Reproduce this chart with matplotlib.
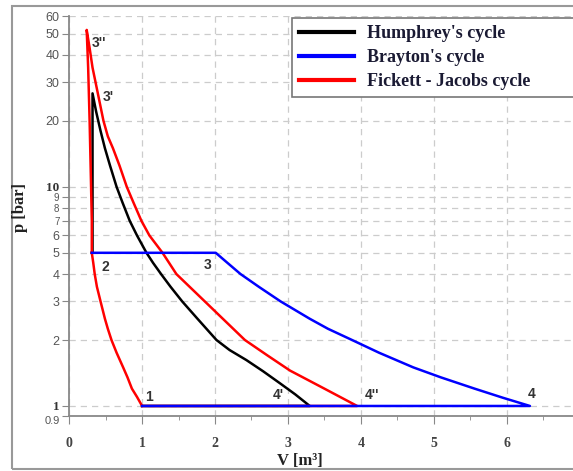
import matplotlib
matplotlib.use('Agg')
import matplotlib.pyplot as plt
from matplotlib.patches import Rectangle
from matplotlib.ticker import FixedLocator, NullLocator, MultipleLocator

# compression 1 -> 2 (shared by all three cycles)
comp_v = [1.0, 0.93, 0.86, 0.80, 0.74, 0.65, 0.58, 0.53, 0.49, 0.43, 0.38, 0.35, 0.33, 0.31]
comp_p = [1.0, 1.1, 1.2, 1.35, 1.5, 1.75, 2.0, 2.25, 2.5, 3.0, 3.5, 4.0, 4.5, 5.0]

# Humphrey: 2 -> 3' -> 4' -> 1
hum_v = [0.31, 0.32, 0.32, 0.37, 0.43, 0.49, 0.56, 0.65, 0.73, 0.83, 0.93, 1.06, 1.15,
         1.26, 1.39, 1.55, 1.76, 2.02, 2.20, 2.43, 2.66, 2.89, 3.10, 3.30, 1.0]
hum_p = [5.0, 5.0, 26.7, 22.0, 18.0, 15.0, 12.5, 10.0, 8.5, 7.0, 6.0, 5.0, 4.5,
         4.0, 3.5, 3.0, 2.5, 2.0, 1.8, 1.62, 1.44, 1.27, 1.13, 1.0, 1.0]

# Brayton: 2 -> 3 -> 4 -> 1
bra_v = [0.31, 2.01, 2.17, 2.35, 2.60, 2.90, 3.30, 3.55, 3.88, 4.25, 4.72, 5.10, 5.56, 5.95, 6.32, 1.0]
bra_p = [5.0, 5.0, 4.5, 4.0, 3.5, 3.0, 2.5, 2.25, 2.0, 1.75, 1.5, 1.35, 1.2, 1.09, 1.0, 1.0]

# Fickett - Jacobs: 2 -> 3'' -> 4'' -> 1
fj_v = [0.31, 0.31, 0.30, 0.28, 0.26, 0.24, 0.28, 0.32, 0.38, 0.47, 0.53, 0.60, 0.69, 0.79,
        0.88, 0.99, 1.10, 1.28, 1.37, 1.47, 2.41, 2.72, 3.03, 3.50, 3.95, 1.0]
fj_p = [5.0, 7.0, 10.0, 20.0, 35.0, 52.0, 43.0, 35.0, 28.0, 20.0, 17.0, 15.0, 12.5, 10.0,
        8.5, 7.0, 6.0, 5.0, 4.5, 4.0, 2.0, 1.7, 1.45, 1.2, 1.0, 1.0]

point_names = ['1', '2', '3', '4', "4'", "4''", "3'", "3''"]
point_v = [1.1, 0.49, 1.9, 6.35, 2.87, 4.16, 0.54, 0.41]
point_p = [1.10, 4.3, 4.4, 1.13, 1.12, 1.12, 25.6, 45.4]

y_ticks = [0.9, 1, 2, 3, 4, 5, 6, 7, 8, 9, 10, 20, 30, 40, 50, 60]
y_labels = ['0.9', '1', '2', '3', '4', '5', '6', '7', '8', '9', '10', '20', '30', '40', '50', '60']
x_ticks = [0, 1, 2, 3, 4, 5, 6]

serif = 'Liberation Serif'
sans = 'Liberation Sans'

fig = plt.figure(figsize=(5.73, 4.71), dpi=100)
ax = fig.add_axes([69.2 / 573, 55 / 471, (573 - 69.2) / 573, (416 - 16.3) / 471])

lw = 1.8
ax.plot(hum_v, hum_p, color='black', lw=lw, label="Humphrey's cycle", zorder=3)
ax.plot(comp_v, comp_p, color='#ff0000', lw=lw, zorder=4)
ax.plot(fj_v, fj_p, color='#ff0000', lw=lw, zorder=4)
ax.plot(bra_v, bra_p, color='#0000ff', lw=lw, label="Brayton's cycle", zorder=5)
ax.plot([], [], color='#ff0000', lw=lw, label='Fickett - Jacobs cycle')

ax.set_yscale('log')
ax.set_xlim(0, (573 - 69.2) / 72.9)
ax.set_ylim(0.9, 60)

ax.yaxis.set_major_locator(FixedLocator(y_ticks))
ax.yaxis.set_minor_locator(NullLocator())
ax.set_yticklabels(y_labels)
ax.xaxis.set_major_locator(FixedLocator(x_ticks))
ax.xaxis.set_minor_locator(MultipleLocator(0.5))

for lab, val in zip(ax.get_yticklabels(), y_ticks):
    if val in (1, 10):
        lab.set_fontfamily(serif)
        lab.set_fontweight('bold')
        lab.set_fontsize(9.5)
        lab.set_color('#333333')
    elif val in (7, 8, 9):
        lab.set_fontfamily(sans)
        lab.set_fontsize(7)
        lab.set_color('#555555')
    elif val == 0.9:
        lab.set_fontfamily(sans)
        lab.set_fontsize(8)
        lab.set_color('#555555')
        lab.set_va('top')
    else:
        lab.set_fontfamily(sans)
        lab.set_fontsize(9)
        lab.set_color('#555555')
for lab in ax.get_xticklabels():
    lab.set_fontfamily(serif)
    lab.set_fontweight('bold')
    lab.set_fontsize(10)
    lab.set_color('#444444')

ax.tick_params(axis='y', which='major', length=5, color='#888888', pad=2)
ax.tick_params(axis='x', which='major', length=6, color='#888888', pad=9)
ax.tick_params(axis='x', which='minor', length=3, color='#888888')

for s in ['top', 'right']:
    ax.spines[s].set_visible(False)
for s in ['left', 'bottom']:
    ax.spines[s].set_color('#888888')
    ax.spines[s].set_linewidth(1.3)

ax.grid(True, which='major', color='#cccccc', ls=(0, (5, 4)), lw=0.9)
ax.set_axisbelow(True)

for name, v, p in zip(point_names, point_v, point_p):
    ax.text(v, p, name, fontsize=10, fontweight='bold', color='#333333',
            ha='center', va='center', family=sans, zorder=6)

fig.text(20 / 573, 1 - 208 / 471, 'p [bar]', rotation=90, fontsize=12,
         fontweight='bold', family=serif, ha='center', va='center', color='#222222')
fig.text(300 / 573, 1 - 461 / 471, 'V [m\u00b3]', fontsize=12,
         fontweight='bold', family=serif, ha='center', va='center', color='#222222')

leg = fig.legend(loc='upper left', bbox_to_anchor=(291.7 / 573, 1 - 97 / 471, 0.6, 79 / 471),
                 mode='expand', fancybox=False, framealpha=1, edgecolor='#777777',
                 prop={'family': serif, 'weight': 'bold', 'size': 13},
                 handlelength=3.08, handletextpad=0.72, labelspacing=0.39, borderpad=0.38,
                 borderaxespad=0)
leg.get_frame().set_linewidth(1.2)
for line in leg.get_lines():
    line.set_linewidth(3)
for t in leg.get_texts():
    t.set_color('#1a1a33')

fig.patches.append(Rectangle((12 / 573, 2 / 471), 1.2, 1 - 8 / 471, transform=fig.transFigure,
                             fill=False, edgecolor='#999999', lw=1.5))

fig.savefig('out.png', dpi=100)
